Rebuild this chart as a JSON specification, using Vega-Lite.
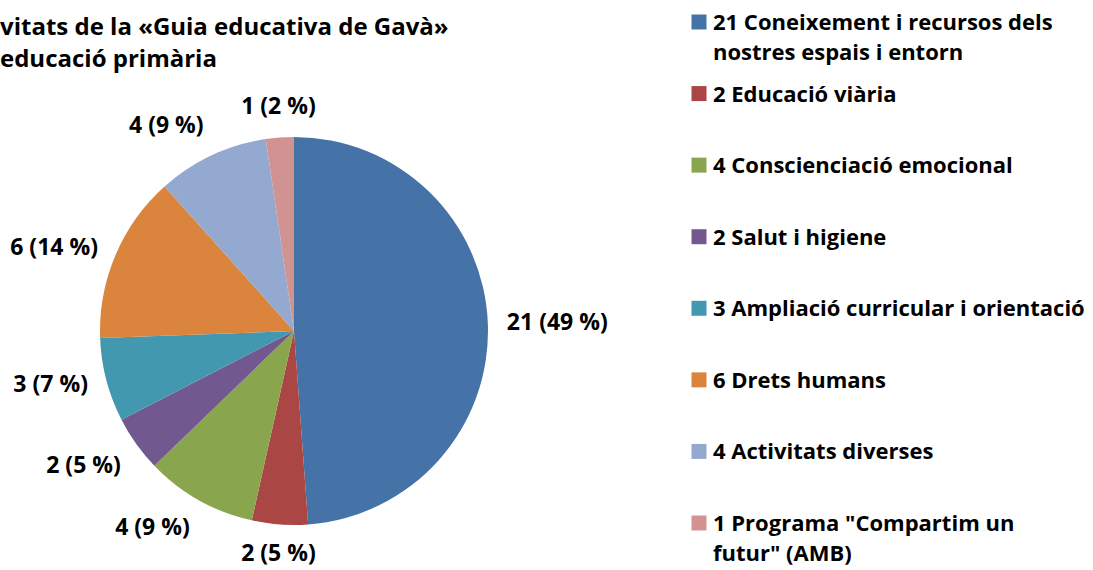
{
  "$schema": "https://vega.github.io/schema/vega-lite/v6.json",
  "padding": {"left": 0, "top": 12, "right": 0, "bottom": 0},
  "background": "white",
  "config": {"view": {"stroke": null}, "concat": {"spacing": 83}, "font": "Open Sans"},
  "datasets": {
    "d": [
      {"idx": 1, "category": "Coneixement i recursos dels nostres espais i entorn", "value": 21, "label": "21 (49 %)", "legend": "21 Coneixement i recursos dels\nnostres espais i entorn"},
      {"idx": 2, "category": "Educació viària", "value": 2, "label": "2 (5 %)", "legend": "2 Educació viària"},
      {"idx": 3, "category": "Conscienciació emocional", "value": 4, "label": "4 (9 %)", "legend": "4 Conscienciació emocional"},
      {"idx": 4, "category": "Salut i higiene", "value": 2, "label": "2 (5 %)", "legend": "2 Salut i higiene"},
      {"idx": 5, "category": "Ampliació curricular i orientació", "value": 3, "label": "3 (7 %)", "legend": "3 Ampliació curricular i orientació"},
      {"idx": 6, "category": "Drets humans", "value": 6, "label": "6 (14 %)", "legend": "6 Drets humans"},
      {"idx": 7, "category": "Activitats diverses", "value": 4, "label": "4 (9 %)", "legend": "4 Activitats diverses"},
      {"idx": 8, "category": "Programa \"Compartim un futur\" (AMB)", "value": 1, "label": "1 (2 %)", "legend": "1 Programa \"Compartim un\nfutur\" (AMB)"}
    ]
  },
  "hconcat": [
    {
      "width": 588,
      "height": 464,
      "title": {
        "text": ["vitats de la «Guia educativa de Gavà»", "educació primària"],
        "anchor": "start",
        "fontSize": 24,
        "fontWeight": "bold",
        "lineHeight": 32,
        "offset": 24,
        "font": "Open Sans",
        "color": "black"
      },
      "data": {"name": "d"},
      "transform": [{"joinaggregate": [{"op": "sum", "field": "value", "as": "total"}]}],
      "layer": [
        {
          "mark": {"type": "arc", "radius": 194},
          "encoding": {
            "theta": {"field": "value", "type": "quantitative", "stack": true},
            "order": {"field": "idx", "type": "quantitative"},
            "color": {
              "field": "category",
              "type": "nominal",
              "legend": null,
              "scale": {
                "domain": ["Coneixement i recursos dels nostres espais i entorn", "Educació viària", "Conscienciació emocional", "Salut i higiene", "Ampliació curricular i orientació", "Drets humans", "Activitats diverses", "Programa \"Compartim un futur\" (AMB)"],
                "range": ["#4572A7", "#AA4643", "#89A54E", "#71588F", "#4198AF", "#DB843D", "#93A9CF", "#D19392"]
              }
            }
          }
        },
        {
          "mark": {
            "type": "text",
            "radius": 213,
            "fontSize": 23,
            "fontWeight": "bold",
            "color": "black",
            "align": {"expr": "sin(PI*(datum.value_start+datum.value_end)/datum.total) > 0.3 ? 'left' : (sin(PI*(datum.value_start+datum.value_end)/datum.total) < -0.3 ? 'right' : 'center')"},
            "baseline": {"expr": "cos(PI*(datum.value_start+datum.value_end)/datum.total) > 0.5 ? 'bottom' : (cos(PI*(datum.value_start+datum.value_end)/datum.total) < -0.5 ? 'top' : 'middle')"}
          },
          "encoding": {
            "theta": {"field": "value", "type": "quantitative", "stack": true},
            "order": {"field": "idx", "type": "quantitative"},
            "text": {"field": "label", "type": "nominal"}
          }
        }
      ]
    },
    {
      "width": 16,
      "height": 464,
      "data": {"name": "d"},
      "encoding": {
        "y": {"field": "idx", "type": "ordinal", "axis": null, "scale": {"type": "point", "range": [-77, 424], "padding": 0}}
      },
      "layer": [
        {
          "mark": {"type": "point", "shape": "square", "filled": true, "size": 225, "opacity": 1, "strokeWidth": 0},
          "encoding": {
            "color": {
              "field": "category",
              "type": "nominal",
              "legend": null,
              "scale": {
                "domain": ["Coneixement i recursos dels nostres espais i entorn", "Educació viària", "Conscienciació emocional", "Salut i higiene", "Ampliació curricular i orientació", "Drets humans", "Activitats diverses", "Programa \"Compartim un futur\" (AMB)"],
                "range": ["#4572A7", "#AA4643", "#89A54E", "#71588F", "#4198AF", "#DB843D", "#93A9CF", "#D19392"]
              }
            }
          }
        },
        {
          "mark": {"type": "text", "align": "left", "baseline": "alphabetic", "dx": 14, "dy": 8, "lineBreak": "\n", "lineHeight": 30, "fontSize": 22, "fontWeight": "bold", "color": "black"},
          "encoding": {"text": {"field": "legend", "type": "nominal"}}
        }
      ]
    }
  ]
}
